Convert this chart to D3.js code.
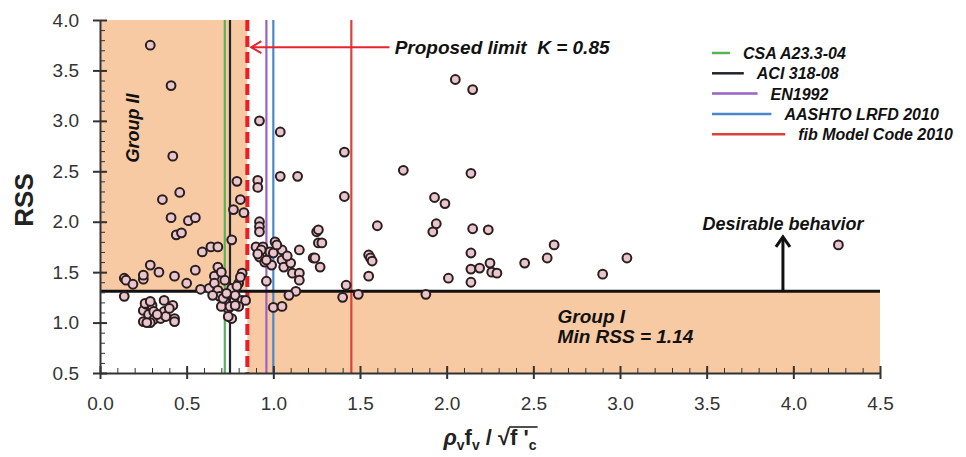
<!DOCTYPE html>
<html>
<head>
<meta charset="utf-8">
<script src="https://cdn.jsdelivr.net/npm/d3@7"></script>
<style>
  body { margin: 0; background: #fff; }
  svg { font-family: "Liberation Sans", Arial, sans-serif; }
  .axis path, .axis line { stroke: #333; }
  .axis text { fill: #333; font-size: 19px; }
  .note { font-weight: bold; font-style: italic; fill: #111; }
</style>
</head>
<body>
<svg width="966" height="457"></svg>
<script>
// code limits (vertical lines) and legend
var codeNames = ["CSA A23.3-04", "ACI 318-08", "EN1992", "AASHTO LRFD 2010", "fib Model Code 2010"];
var codeLimits = [0.72, 0.75, 0.96, 1.0, 1.45];
var codeColors = ["#56b356", "#1f2430", "#9a62c4", "#4a86cc", "#d8433c"];

var proposedK = 0.85;
var minRSSLine = 1.31;

var xTickValues = [0, 0.5, 1.0, 1.5, 2.0, 2.5, 3.0, 3.5, 4.0, 4.5];
var yTickValues = [0.5, 1.0, 1.5, 2.0, 2.5, 3.0, 3.5, 4.0];

// test points [rho_v f_v / sqrt(f'c), RSS]
var pointsGroupII = [
  [0.29,3.75],[0.41,3.35],[0.42,2.65],[0.36,2.22],[0.46,2.29],[0.41,2.04],[0.51,2.01],[0.55,2.04],
  [0.44,1.87],[0.47,1.89],[0.59,1.70],[0.64,1.75],[0.68,1.75],[0.76,1.82],
  [0.14,1.44],[0.15,1.42],[0.19,1.38],[0.25,1.43],[0.25,1.47],[0.29,1.57],[0.34,1.50],[0.43,1.46],
  [0.50,1.39],[0.55,1.52],[0.58,1.33],[0.63,1.34],[0.66,1.46],[0.68,1.55],[0.66,1.39],[0.68,1.32],
  [0.69,1.26],[0.72,1.22],[0.74,1.14],[0.14,1.26]
];
var pointsLowCluster = [
  [0.25,1.12],[0.25,1.01],[0.27,1.18],[0.28,1.08],[0.30,1.17],[0.31,1.11],[0.31,1.03],[0.29,1.00],
  [0.35,1.04],[0.37,1.22],[0.37,1.11],[0.38,1.06],[0.42,1.17],[0.43,1.04],[0.43,1.01],[0.40,1.14],
  [0.33,1.08],[0.27,1.00],[0.26,1.19],[0.29,1.21]
];
var pointsNearLimit = [
  [0.79,2.40],[0.81,2.22],[0.77,2.12],[0.83,2.09],[0.65,1.27],[0.70,1.16],[0.71,1.24],[0.76,1.04],
  [0.76,1.34],[0.78,1.27],[0.80,1.39],[0.82,1.49],[0.82,1.22],[0.84,1.22],[0.80,1.16],[0.75,1.16],
  [0.78,1.17],[0.79,1.36],[0.81,1.45],[0.74,1.06],[0.73,1.29],[0.72,1.42],[0.70,1.50]
];
var pointsMid = [
  [0.92,3.00],[1.04,2.89],[0.91,2.41],[0.91,2.34],[1.04,2.45],[1.14,2.45],[0.92,2.00],[0.92,1.95],
  [0.92,1.90],[1.25,1.90],[1.26,1.79],[1.28,1.79],[1.23,1.64],[1.27,1.55],[1.15,1.72],[1.01,1.80],
  [0.90,1.75],[0.94,1.75],[0.98,1.70],[1.00,1.69],[1.05,1.72],[0.92,1.65],[0.95,1.60],[0.99,1.57],
  [1.05,1.62],[1.06,1.55],[1.10,1.59],[1.11,1.49],[1.15,1.49],[1.15,1.42],[0.96,1.41],[1.13,1.31],
  [1.09,1.27],[1.00,1.15],[1.05,1.16],[0.93,1.72],[0.96,1.62],[0.91,1.68],[1.02,1.77],[1.08,1.66],
  [1.26,1.92],[1.24,1.64]
];
var pointsRight = [
  [1.41,2.69],[1.41,2.25],[1.75,2.51],[2.14,2.48],[1.93,2.24],[1.99,2.18],[1.60,1.96],[1.94,1.98],
  [1.92,1.90],[2.15,1.93],[2.24,1.92],[1.55,1.67],[1.56,1.64],[1.57,1.61],[1.55,1.46],[2.14,1.69],
  [2.01,1.44],[2.14,1.53],[2.19,1.54],[2.25,1.59],[2.26,1.50],[2.29,1.49],[2.14,1.40],[1.42,1.37],
  [1.40,1.25],[1.49,1.28],[1.88,1.28],[2.05,3.41],[2.15,3.31],[2.45,1.59],[2.58,1.64],[2.62,1.77],
  [2.90,1.48],[3.04,1.64],[4.26,1.77]
];

var allPoints = pointsGroupII.concat(pointsLowCluster, pointsNearLimit, pointsMid, pointsRight);

var svg = d3.select("svg");

var x = d3.scaleLinear().domain([0, 4.5]).range([100, 880]);
var y = d3.scaleLinear().domain([0.5, 4.0]).range([373, 20]);

var fillColor = "#f8caa3";

// Group II zone
svg.append("rect")
    .attr("x", x(0)).attr("y", y(4.0))
    .attr("width", x(proposedK) - x(0))
    .attr("height", y(minRSSLine) - y(4.0))
    .attr("fill", fillColor);
// Group I zone
svg.append("rect")
    .attr("x", x(proposedK)).attr("y", y(minRSSLine))
    .attr("width", x(4.5) - x(proposedK))
    .attr("height", y(0.5) - y(minRSSLine))
    .attr("fill", fillColor);

// code limit lines
svg.append("g").selectAll("line")
  .data(codeLimits)
  .enter().append("line")
    .attr("x1", function(d) { return x(d); })
    .attr("x2", function(d) { return x(d); })
    .attr("y1", y(4.0)).attr("y2", y(0.5))
    .attr("stroke", function(d, i) { return codeColors[i]; })
    .attr("stroke-width", 2.2);

// proposed limit
svg.append("line")
    .attr("x1", x(proposedK)).attr("x2", x(proposedK))
    .attr("y1", y(4.0)).attr("y2", y(0.5))
    .attr("stroke", "#ee1c24")
    .attr("stroke-width", 4)
    .attr("stroke-dasharray", "11,5");

// minimum RSS line
svg.append("line")
    .attr("x1", x(0)).attr("x2", x(4.5))
    .attr("y1", y(minRSSLine)).attr("y2", y(minRSSLine))
    .attr("stroke", "#111")
    .attr("stroke-width", 3);

// axes
var yAxis = svg.append("g").attr("class", "axis")
    .attr("transform", "translate(" + x(0) + ",0)")
    .call(d3.axisLeft(y).tickValues(yTickValues).tickFormat(d3.format(".1f"))
      .tickSize(7).tickPadding(14).tickSizeOuter(0));
yAxis.selectAll(".tick line").attr("x2", -7).attr("x1", 7).attr("stroke-width", 2);
yAxis.select(".domain").attr("stroke-width", 2);

svg.append("g").attr("class", "axis")
    .attr("transform", "translate(" + x(0) + ",0)")
    .call(d3.axisLeft(y).ticks(35).tickFormat("").tickSize(-5).tickSizeOuter(0))
  .select(".domain").remove();

var xAxis = svg.append("g").attr("class", "axis")
    .attr("transform", "translate(0," + y(0.5) + ")")
    .call(d3.axisBottom(x).tickValues(xTickValues).tickFormat(d3.format(".1f"))
      .tickSize(6).tickPadding(18).tickSizeOuter(0));
xAxis.selectAll(".tick line").attr("y1", -7).attr("y2", 6).attr("stroke-width", 2);
xAxis.select(".domain").attr("stroke-width", 2);

svg.append("g").attr("class", "axis")
    .attr("transform", "translate(0," + y(0.5) + ")")
    .call(d3.axisBottom(x).ticks(45).tickFormat("").tickSize(-5).tickSizeOuter(0))
  .select(".domain").remove();

// points
svg.append("g").selectAll("circle")
  .data(allPoints)
  .enter().append("circle")
    .attr("cx", function(d) { return x(d[0]); })
    .attr("cy", function(d) { return y(d[1]); })
    .attr("r", 4.4)
    .attr("fill", "#e9c5cd")
    .attr("stroke", "#2a1e1e")
    .attr("stroke-width", 2);

// proposed limit annotation
var ay = y(3.73);
svg.append("line")
    .attr("x1", x(proposedK) + 4).attr("x2", x(1.67))
    .attr("y1", ay).attr("y2", ay)
    .attr("stroke", "#e8232b").attr("stroke-width", 2);
svg.append("path")
    .attr("d", "M" + (x(proposedK) + 14) + "," + (ay - 6) + "L" + (x(proposedK) + 4) + "," + ay + "L" + (x(proposedK) + 14) + "," + (ay + 6))
    .attr("fill", "none").attr("stroke", "#e8232b").attr("stroke-width", 2);
svg.append("text").attr("class", "note")
    .attr("x", x(1.70)).attr("y", ay + 7)
    .attr("font-size", 19)
    .text("Proposed limit\u00a0\u00a0K = 0.85");

// desirable behavior arrow
var dx = x(3.94);
svg.append("line")
    .attr("x1", dx).attr("x2", dx)
    .attr("y1", y(minRSSLine)).attr("y2", y(1.84))
    .attr("stroke", "#111").attr("stroke-width", 3);
svg.append("path")
    .attr("d", "M" + (dx - 7) + "," + (y(1.84) + 9) + "L" + dx + "," + y(1.85) + "L" + (dx + 7) + "," + (y(1.84) + 9))
    .attr("fill", "none").attr("stroke", "#111").attr("stroke-width", 3);
svg.append("text").attr("class", "note")
    .attr("x", dx).attr("y", y(1.92))
    .attr("text-anchor", "middle")
    .attr("font-size", 18)
    .text("Desirable behavior");

// group labels
svg.append("text").attr("class", "note")
    .attr("x", x(2.64)).attr("y", y(1.0))
    .attr("font-size", 19).text("Group I");
svg.append("text").attr("class", "note")
    .attr("x", x(2.64)).attr("y", y(0.8))
    .attr("font-size", 19).text("Min RSS = 1.14");
svg.append("text").attr("class", "note")
    .attr("transform", "translate(" + 139 + "," + y(2.93) + ") rotate(-90)")
    .attr("text-anchor", "middle")
    .attr("font-size", 18).text("Group II");

// legend
var legend = svg.append("g").selectAll("g")
  .data(codeNames)
  .enter().append("g")
    .attr("transform", function(d, i) { return "translate(0," + (53 + i * 20.3) + ")"; });
legend.append("line")
    .attr("x1", 712)
    .attr("x2", function(d, i) { return 730 + i * 13.8; })
    .attr("stroke", function(d, i) { return codeColors[i]; })
    .attr("stroke-width", 2.5);
legend.append("text").attr("class", "note")
    .attr("x", function(d, i) { return 743 + i * 13.8; })
    .attr("y", 6)
    .attr("font-size", 16)
    .text(function(d) { return d; });

// axis titles
svg.append("text")
    .attr("transform", "translate(33,200) rotate(-90)")
    .attr("text-anchor", "middle")
    .attr("font-size", 26).attr("font-weight", "bold").attr("fill", "#222")
    .text("RSS");

var xt = svg.append("text")
    .attr("x", 490).attr("y", 445)
    .attr("text-anchor", "middle")
    .attr("font-size", 22).attr("font-weight", "bold").attr("fill", "#222");
xt.append("tspan").attr("font-style", "italic").text("ρ");
xt.append("tspan").attr("font-size", 14).attr("dy", 5).text("v");
xt.append("tspan").attr("dy", -5).text("f");
xt.append("tspan").attr("font-size", 14).attr("dy", 5).text("v");
xt.append("tspan").attr("dy", -5).text(" / √");
xt.append("tspan").text("f '");
xt.append("tspan").attr("font-size", 14).attr("dy", 5).text("c");

var node = xt.node();
var n = node.getNumberOfChars();
var rad = node.getExtentOfChar(7);
var last = node.getExtentOfChar(n - 1);
svg.append("line")
    .attr("x1", rad.x + rad.width - 1).attr("x2", last.x + last.width + 1)
    .attr("y1", rad.y + 2).attr("y2", rad.y + 2)
    .attr("stroke", "#222").attr("stroke-width", 1.6);
</script>
</body>
</html>
